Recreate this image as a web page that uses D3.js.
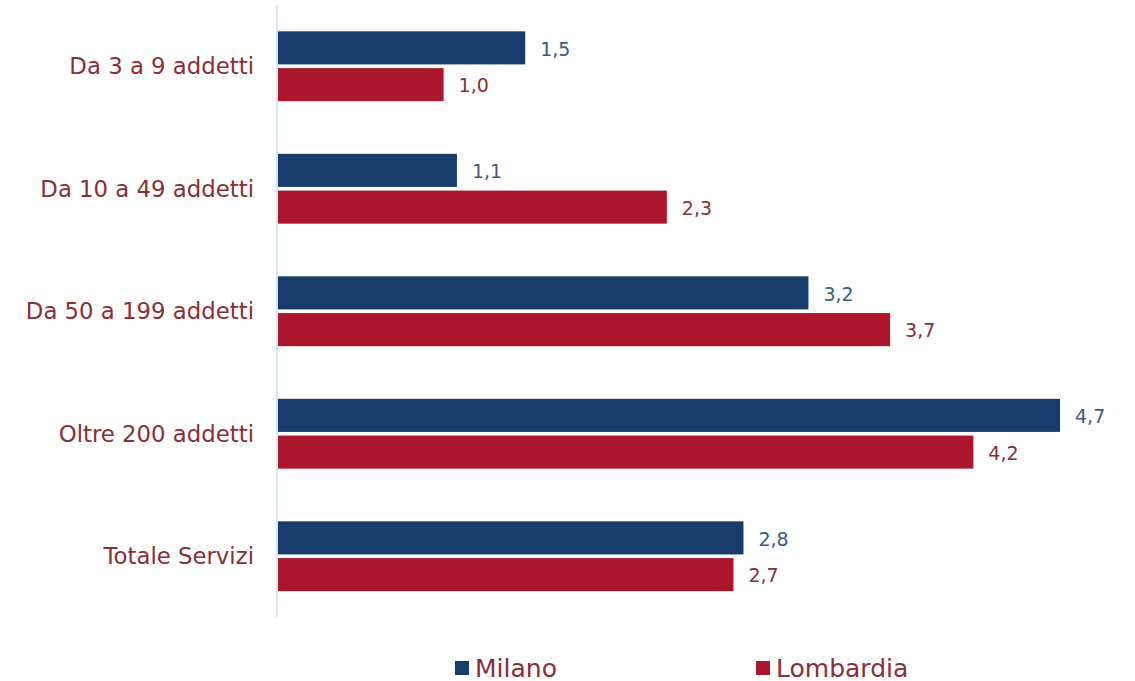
<!DOCTYPE html>
<html>
  <head>
    <meta charset="utf-8">
    <title>Addetti</title>
    <script src="https://d3js.org/d3.v7.min.js"></script>
    <style>
      body { margin: 0; background: #fff; }
      text { font-family: "DejaVu Sans", sans-serif; }
    </style>
  </head>
  <body>
    <div id="chart"></div>
    <script>
      const categories = ["Da 3 a 9 addetti", "Da 10 a 49 addetti", "Da 50 a 199 addetti", "Oltre 200 addetti", "Totale Servizi"];
      const seriesNames = ["Milano", "Lombardia"];
      const milano = [1.49, 1.08, 3.19, 4.7, 2.8];
      const lombardia = [1.0, 2.34, 3.68, 4.18, 2.74];
      const colors = ["#173b6a", "#ab162d"];
      const labelColors = ["#3b5a86", "#8b2e36"];

      const width = 1135, height = 681;
      const svg = d3.select("#chart")
        .append("svg")
        .attr("width", width)
        .attr("height", height);

      const x = d3.scaleLinear()
        .domain([0, 4.7])
        .range([277, 1060]);

      const y = d3.scaleBand()
        .domain(categories)
        .range([5, 617.5])
        .paddingInner(0.43)
        .paddingOuter(0.215);

      const inner = d3.scaleBand()
        .domain(seriesNames)
        .range([0, y.bandwidth()])
        .paddingInner(0.1);

      const rows = [];
      categories.forEach((c, i) => {
        rows.push({ cat: c, s: 0, v: milano[i] });
        rows.push({ cat: c, s: 1, v: lombardia[i] });
      });

      svg.selectAll("rect.bar")
        .data(rows)
        .join("rect")
        .attr("class", "bar")
        .attr("x", x(0) + 1)
        .attr("y", d => y(d.cat) + inner(seriesNames[d.s]))
        .attr("width", d => x(d.v) - x(0) - 1)
        .attr("height", inner.bandwidth())
        .attr("fill", d => colors[d.s]);

      svg.selectAll("text.val")
        .data(rows)
        .join("text")
        .attr("class", "val")
        .attr("x", d => x(d.v) + 15)
        .attr("y", d => y(d.cat) + inner(seriesNames[d.s]) + inner.bandwidth() / 2 + 1)
        .attr("dy", "0.36em")
        .attr("font-size", "19px")
        .attr("fill", d => labelColors[d.s])
        .text(d => d.v.toFixed(1).replace(".", ","));

      // category axis
      svg.append("line")
        .attr("x1", x(0)).attr("x2", x(0))
        .attr("y1", 5).attr("y2", 617)
        .attr("stroke", "#c9dcee")
        .attr("stroke-width", 1.5);

      svg.selectAll("text.cat")
        .data(categories)
        .join("text")
        .attr("class", "cat")
        .attr("x", 254)
        .attr("y", d => y(d) + y.bandwidth() / 2)
        .attr("dy", "0.36em")
        .attr("text-anchor", "end")
        .attr("font-size", "22.8px")
        .attr("fill", "#8b2e36")
        .text(d => d);

      // legend
      const legendX = [455, 756];
      const legend = svg.selectAll("g.leg")
        .data(seriesNames)
        .join("g")
        .attr("class", "leg")
        .attr("transform", (d, i) => `translate(${legendX[i]},661)`);
      legend.append("rect")
        .attr("width", 14).attr("height", 14)
        .attr("fill", (d, i) => colors[i]);
      legend.append("text")
        .attr("x", 20)
        .attr("y", 15.5)
        .attr("font-size", "25px")
        .attr("fill", "#8b2e36")
        .text(d => d);
    </script>
  </body>
</html>
